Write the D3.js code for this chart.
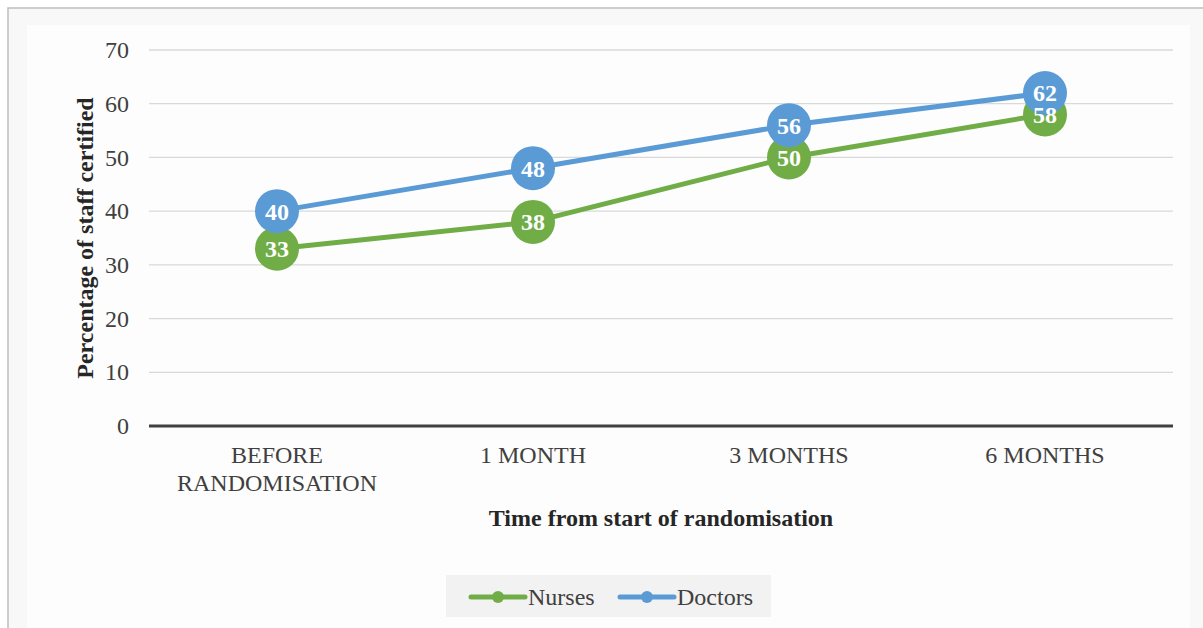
<!DOCTYPE html>
<html>
<head>
<meta charset="utf-8">
<script src="https://cdn.jsdelivr.net/npm/d3@7"></script>
<style>
	body { margin: 0; background: #fff; }
	svg { display: block; font-family: "Liberation Serif", "Times New Roman", serif; }
</style>
</head>
<body>
<div id="chart"></div>
<script>
const categories = ['BEFORE RANDOMISATION', '1 MONTH', '3 MONTHS', '6 MONTHS'];
const nurses = [33, 38, 50, 58];
const doctors = [40, 48, 56, 62];
const yTicks = [0, 10, 20, 30, 40, 50, 60, 70];

const series = [
	{name: 'Nurses', values: nurses, color: '#70ad47'},
	{name: 'Doctors', values: doctors, color: '#5b9bd5'}
];

const width = 1203, height = 628;
const plot = {left: 149, right: 1173, top: 50, bottom: 426};
const fontSize = 24;

const svg = d3.select('#chart').append('svg')
	.attr('width', width)
	.attr('height', height);

// frame + inner chart area
svg.append('rect').attr('x', 8).attr('y', 8).attr('width', width).attr('height', height)
	.attr('fill', '#f8f8f8').attr('stroke', '#bdbdbd').attr('stroke-width', 1.5);
svg.append('rect').attr('x', 27).attr('y', 25).attr('width', 1163).attr('height', height)
	.attr('fill', '#fdfdfd');

const x = d3.scaleBand().domain(categories).range([plot.left, plot.right]);
const y = d3.scaleLinear().domain([0, 70]).range([plot.bottom, plot.top]);
const cx = c => x(c) + x.bandwidth() / 2;

// gridlines
svg.append('g')
	.selectAll('line')
	.data(yTicks.filter(d => d > 0))
	.join('line')
	.attr('x1', plot.left).attr('x2', plot.right)
	.attr('y1', d => y(d)).attr('y2', d => y(d))
	.attr('stroke', '#d9d9d9').attr('stroke-width', 1.3);

// y axis labels
const yAxis = svg.append('g')
	.attr('transform', `translate(${plot.left - 20},0)`)
	.call(d3.axisLeft(y).tickValues(yTicks).tickSize(0).tickPadding(0));
yAxis.select('.domain').remove();
yAxis.selectAll('text')
	.attr('font-size', fontSize).attr('fill', '#404040')
	.attr('font-family', '"Liberation Serif", serif');

// zero line
svg.append('line')
	.attr('x1', plot.left).attr('x2', plot.right)
	.attr('y1', y(0)).attr('y2', y(0))
	.attr('stroke', '#404040').attr('stroke-width', 3);

// category labels
const catG = svg.append('g');
categories.forEach(c => {
	const words = c === 'BEFORE RANDOMISATION' ? ['BEFORE', 'RANDOMISATION'] : [c];
	const t = catG.append('text')
		.attr('x', cx(c))
		.attr('y', 463)
		.attr('text-anchor', 'middle')
		.attr('font-size', fontSize)
		.attr('fill', '#404040');
	words.forEach((w, i) => {
		t.append('tspan').attr('x', cx(c)).attr('dy', i ? 28 : 0).text(w);
	});
});

// axis titles
svg.append('text')
	.attr('x', (plot.left + plot.right) / 2).attr('y', 526)
	.attr('text-anchor', 'middle').attr('font-size', fontSize).attr('font-weight', 'bold')
	.attr('fill', '#262626')
	.text('Time from start of randomisation');

svg.append('text')
	.attr('transform', `translate(93,${(plot.top + plot.bottom) / 2}) rotate(-90)`)
	.attr('text-anchor', 'middle').attr('font-size', fontSize).attr('font-weight', 'bold')
	.attr('fill', '#262626')
	.text('Percentage of staff certified');

// lines and markers
const line = d3.line()
	.x((d, i) => cx(categories[i]))
	.y(d => y(d));

series.forEach(s => {
	const g = svg.append('g');
	g.append('path')
		.datum(s.values)
		.attr('d', line)
		.attr('fill', 'none')
		.attr('stroke', s.color)
		.attr('stroke-width', 5)
		.attr('stroke-linecap', 'round')
		.attr('stroke-linejoin', 'round');
	g.selectAll('circle')
		.data(s.values)
		.join('circle')
		.attr('cx', (d, i) => cx(categories[i]))
		.attr('cy', d => y(d))
		.attr('r', 22)
		.attr('fill', s.color);
});

// data labels go on top of all markers
series.forEach(s => {
	svg.append('g')
		.selectAll('text')
		.data(s.values)
		.join('text')
		.attr('x', (d, i) => cx(categories[i]))
		.attr('y', d => y(d))
		.attr('text-anchor', 'middle')
		.attr('dy', '0.35em')
		.attr('font-size', fontSize)
		.attr('font-weight', 'bold')
		.attr('fill', '#fff')
		.text(d => d);
});

// legend
const legend = svg.append('g');
legend.append('rect')
	.attr('x', 446).attr('y', 575).attr('width', 325).attr('height', 42)
	.attr('fill', '#f2f2f2');
const legendItems = [
	{s: series[0], x0: 471},
	{s: series[1], x0: 620}
];
legendItems.forEach(({s, x0}) => {
	legend.append('line')
		.attr('x1', x0).attr('x2', x0 + 54)
		.attr('y1', 597).attr('y2', 597)
		.attr('stroke', s.color).attr('stroke-width', 5).attr('stroke-linecap', 'round');
	legend.append('circle')
		.attr('cx', x0 + 27).attr('cy', 597).attr('r', 6)
		.attr('fill', s.color);
	legend.append('text')
		.attr('x', x0 + 57).attr('y', 605)
		.attr('font-size', fontSize).attr('fill', '#404040')
		.text(s.name);
});
</script>
</body>
</html>
